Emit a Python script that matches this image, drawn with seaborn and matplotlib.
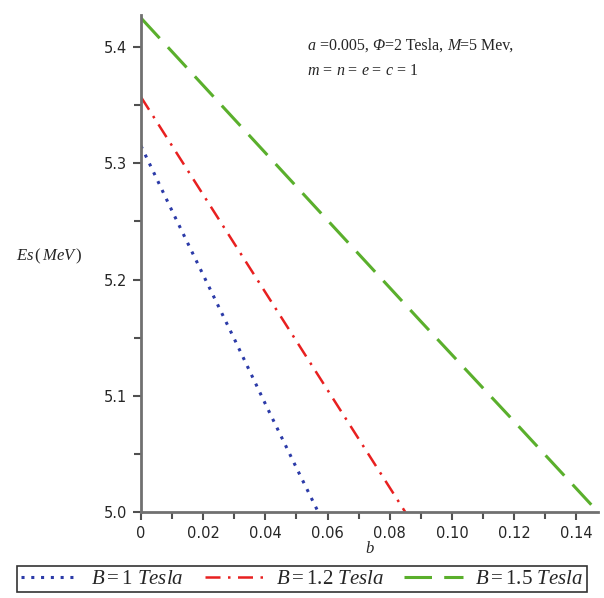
import matplotlib
matplotlib.use("Agg")
import matplotlib.pyplot as plt
from matplotlib.ticker import MultipleLocator
import seaborn as sns
import pandas as pd

# b values and ground-state energies for each magnetic field
b_b1 = [0.0, 0.01, 0.02, 0.03, 0.04, 0.05, 0.057]
es_b1 = [5.315, 5.259, 5.204, 5.149, 5.093, 5.038, 5.0]

b_b12 = [0.0, 0.02, 0.04, 0.06, 0.08, 0.085]
es_b12 = [5.357, 5.273, 5.189, 5.105, 5.021, 5.0]

b_b15 = [0.0, 0.03, 0.06, 0.09, 0.12, 0.147]
es_b15 = [5.425, 5.338, 5.251, 5.164, 5.078, 5.0]

labels = [r"$B = 1\ Tesla$", r"$B = 1.2\ Tesla$", r"$B = 1.5\ Tesla$"]
colors = ["#2b3aa8", "#e82020", "#5aaf2c"]

xticks = [0, 0.02, 0.04, 0.06, 0.08, 0.10, 0.12, 0.14]
xticklabels = ["0", "0.02", "0.04", "0.06", "0.08", "0.10", "0.12", "0.14"]
yticks = [5.0, 5.1, 5.2, 5.3, 5.4]
yticklabels = ["5.0", "5.1", "5.2", "5.3", "5.4"]

# parameter note, as (text, style) runs
note_line1 = [("a", "italic"), (" =0.005, ", "normal"), ("Φ", "italic"),
              ("=2 Tesla, ", "normal"), ("M", "italic"), ("=5 Mev,", "normal")]
note_line2 = [("m", "italic"), (" = ", "normal"), ("n", "italic"), (" = ", "normal"),
              ("e", "italic"), (" = ", "normal"), ("c", "italic"), (" = 1", "normal")]

sns.set_theme(style="white")
plt.rcParams["mathtext.fontset"] = "custom"
plt.rcParams["mathtext.rm"] = "Liberation Serif"
plt.rcParams["mathtext.it"] = "Liberation Serif:italic"
plt.rcParams["font.family"] = ["Liberation Serif", "DejaVu Sans"]

fig = plt.figure(figsize=(6.04, 5.98), dpi=100)
ax = fig.add_axes([141 / 604, 1 - 512 / 598, (598 - 141) / 604, (512 - 15) / 598])

series = [(b_b1, es_b1), (b_b12, es_b12), (b_b15, es_b15)]
styles = [(0, (1, 2.2)), (0, (6, 3, 1, 3)), (0, (9, 4))]
lws = [2.2, 1.8, 2.2]
for (bx, ey), lab, col, ls, lw in zip(series, labels, colors, styles, lws):
    df = pd.DataFrame({"b": bx, "Es": ey})
    sns.lineplot(data=df, x="b", y="Es", ax=ax, color=col, linestyle=ls,
                 linewidth=lw, label=lab)

ax.set_xlim(0, 0.147)
ax.set_ylim(5.0, 5.4276)

for s in ["top", "right"]:
    ax.spines[s].set_visible(False)
for s in ["left", "bottom"]:
    ax.spines[s].set_color("#707070")
    ax.spines[s].set_linewidth(2.0)

ax.set_xticks(xticks)
ax.set_xticklabels(xticklabels, fontfamily="DejaVu Sans", fontsize=10.5)
ax.set_yticks(yticks)
ax.set_yticklabels(yticklabels, fontfamily="DejaVu Sans", fontsize=10.5)
ax.xaxis.set_minor_locator(MultipleLocator(0.01))
ax.yaxis.set_minor_locator(MultipleLocator(0.05))
ax.tick_params(which="both", direction="out", color="#505050", width=1.5,
               bottom=True, left=True)
ax.tick_params(which="major", length=6, pad=4)
ax.tick_params(which="minor", length=5)

ax.set_xlabel(r"$b$", fontsize=12, labelpad=0)
ax.set_ylabel(r"$Es\,(\,MeV\,)$", fontsize=12, rotation=0)
ax.yaxis.set_label_coords(-0.2, 0.495)

# write the note run by run so italic symbols sit inline with upright text
renderer = fig.canvas.get_renderer()
ax_w = ax.get_window_extent(renderer).width
for runs, y in [(note_line1, 0.93), (note_line2, 0.88)]:
    x = 0.365
    for txt, st in runs:
        t = ax.text(x, y, txt, style=st, transform=ax.transAxes, fontsize=11.5,
                    va="baseline", ha="left")
        x += t.get_window_extent(renderer).width / ax_w

ax.legend_.remove()
handles, labs = ax.get_legend_handles_labels()
leg = fig.legend(handles, labs, loc="center", bbox_to_anchor=(0.5, 1 - 579 / 598),
                 ncol=3, frameon=True, fancybox=False, fontsize=15,
                 handlelength=2.8, columnspacing=1.0, handletextpad=0.6,
                 borderpad=0.15, borderaxespad=0)
leg.get_frame().set_edgecolor("black")
leg.get_frame().set_linewidth(1.2)

fig.savefig("out.png", dpi=100)
